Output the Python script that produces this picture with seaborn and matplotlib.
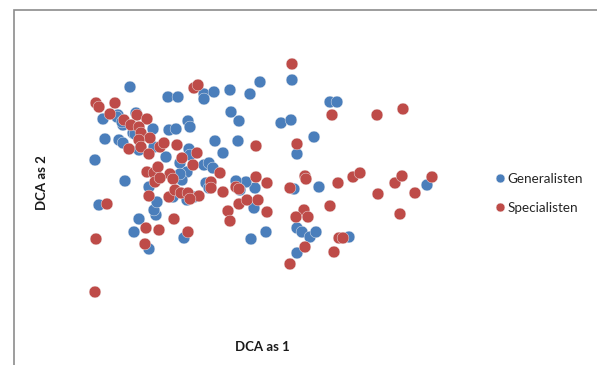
import matplotlib
matplotlib.use("Agg")
import matplotlib.pyplot as plt
from matplotlib.patches import Rectangle
import pandas as pd
import seaborn as sns

# DCA site scores, axis 1 and axis 2, per species group
gen_x = [0.50, 0.88, 0.98, 1.24, 1.34, 1.50, 1.70, 1.80, 2.12, 2.50, 2.57, 1.51, 1.59,
         2.01, 2.11, 2.34, 1.58, 1.35, 1.43, 2.17, 2.39, 2.14, 1.75, 1.66, 1.56, 1.74,
         1.86, 1.71, 2.17, 2.22, 2.30, 2.36, 2.69, 2.17, 3.47, 1.04, 0.69, 0.54, 0.59,
         0.76, 0.74, 0.77, 0.69, 0.45, 0.19, 0.15, 0.25, 0.23, 0.39, 0.43, 0.38, 0.43,
         0.56, 0.73, 0.89, 0.96, 1.08, 1.10, 1.09, 0.86, 1.00, 1.07, 1.02, 1.24, 1.29,
         1.33, 1.26, 1.29, 1.07, 1.14, 0.93, 1.60, 0.59, 0.53, 0.74, 1.00, 0.37, 0.42,
         0.55, 1.10, 1.24]
gen_y = [2.13, 2.03, 2.03, 2.06, 2.08, 2.10, 2.06, 2.18, 2.20, 1.98, 1.98, 1.88, 1.79,
         1.77, 1.80, 1.63, 1.59, 1.59, 1.47, 1.46, 1.13, 1.11, 1.12, 1.18, 1.19, 0.92,
         0.68, 0.61, 0.72, 0.68, 0.63, 0.68, 0.63, 0.47, 1.15, 0.62, 0.51, 0.68, 0.81,
         0.85, 0.90, 0.98, 1.13, 1.19, 0.95, 1.40, 1.61, 1.81, 1.60, 1.57, 1.85, 1.75,
         1.87, 1.71, 1.70, 1.71, 1.79, 1.73, 1.51, 1.43, 1.37, 1.28, 1.20, 1.35, 1.37,
         1.32, 1.17, 1.12, 1.00, 1.03, 1.03, 1.10, 1.50, 1.67, 1.53, 1.26, 1.83, 1.78,
         1.66, 1.45, 2.01]

spec_x = [2.12, 1.14, 1.18, 0.16, 0.19, 0.35, 0.30, 0.44, 0.57, 0.67, 0.51, 0.59, 0.61,
          0.70, 0.59, 0.61, 0.49, 0.69, 0.80, 0.84, 0.97, 1.17, 1.02, 1.13, 0.67, 0.74,
          0.78, 0.75, 0.90, 0.93, 0.69, 0.89, 0.95, 1.01, 1.08, 1.19, 1.31, 1.31, 1.40,
          1.43, 1.56, 1.59, 1.76, 1.87, 1.76, 2.17, 2.52, 2.97, 3.23, 1.59, 1.67, 1.78,
          1.48, 1.50, 1.87, 2.10, 2.25, 2.26, 2.58, 2.73, 2.80, 3.15, 3.22, 3.52, 2.98,
          3.35, 2.50, 3.20, 2.24, 2.16, 2.28, 2.59, 2.63, 2.54, 2.25, 2.10, 0.27, 0.16,
          0.15, 0.66, 0.79, 0.65, 0.94, 1.08, 0.80, 1.10]
spec_y = [2.36, 2.12, 2.15, 1.97, 1.93, 1.97, 1.86, 1.80, 1.85, 1.81, 1.75, 1.73, 1.67,
          1.62, 1.60, 1.53, 1.51, 1.46, 1.53, 1.57, 1.55, 1.47, 1.42, 1.35, 1.28, 1.27,
          1.33, 1.18, 1.26, 1.21, 1.04, 1.03, 1.10, 1.07, 1.07, 1.04, 1.18, 1.12, 1.27,
          1.08, 1.13, 1.11, 1.23, 1.17, 1.54, 1.56, 1.85, 1.85, 1.91, 0.96, 1.00, 1.00,
          0.89, 0.79, 0.88, 1.12, 1.24, 1.21, 1.17, 1.23, 1.27, 1.17, 1.24, 1.23, 1.06,
          1.07, 0.94, 0.86, 0.90, 0.83, 0.83, 0.62, 0.62, 0.48, 0.53, 0.36, 0.96, 0.61,
          0.08, 0.72, 0.70, 0.56, 0.81, 0.68, 1.22, 1.01]

groups = ["Generalisten", "Specialisten"]
colors = ["#4A7EBB", "#BE4B48"]

df = pd.DataFrame({
    "DCA as 1": gen_x + spec_x,
    "DCA as 2": gen_y + spec_y,
    "Groep": [groups[0]] * len(gen_x) + [groups[1]] * len(spec_x),
})

sns.set_theme(style="white")
plt.rcParams["font.family"] = ["Lato", "DejaVu Sans"]

W, H = 597, 365
fig = plt.figure(figsize=(W / 100, H / 100), dpi=100)
# plot area: x from 80 to 480 px, y from 40 to 300 px (top-down)
ax = fig.add_axes([80 / W, 1 - 300 / H, 400 / W, 260 / H])

sns.scatterplot(data=df, x="DCA as 1", y="DCA as 2", hue="Groep",
                palette=dict(zip(groups, colors)), s=72, linewidth=0.3,
                edgecolor="#f2f2f2", ax=ax)

ax.set_xlim(0, 4.0)
ax.set_ylim(0, 2.6)
ax.set_xticks([])
ax.set_yticks([])
for sp in ax.spines.values():
    sp.set_visible(False)

ax.set_xlabel("DCA as 1", fontsize=9.5, fontweight="bold", color="#1a1a1a")
ax.set_ylabel("DCA as 2", fontsize=9.5, fontweight="bold", color="#1a1a1a")
ax.xaxis.set_label_coords((262 - 80) / 400, (300 - 341) / 260)
ax.yaxis.set_label_coords((48 - 80) / 400, (300 - 183) / 260)

leg = ax.legend(loc="center left", bbox_to_anchor=(494 / W, 1 - 193.5 / H),
                bbox_transform=fig.transFigure, frameon=False, fontsize=9.7,
                borderpad=0, borderaxespad=0, handletextpad=0.1,
                handlelength=0.9, labelspacing=1.25, markerscale=0.75)
for t in leg.get_texts():
    t.set_color("#262626")

# chart border (only the top and left edges fall inside the image)
fig.add_artist(Rectangle((14 / W, -0.2), 1.2, 1.2 - 10 / H, transform=fig.transFigure,
                         fill=False, edgecolor="#8c8c8c", linewidth=1.2))

fig.savefig("out.png", dpi=100, facecolor="white")
